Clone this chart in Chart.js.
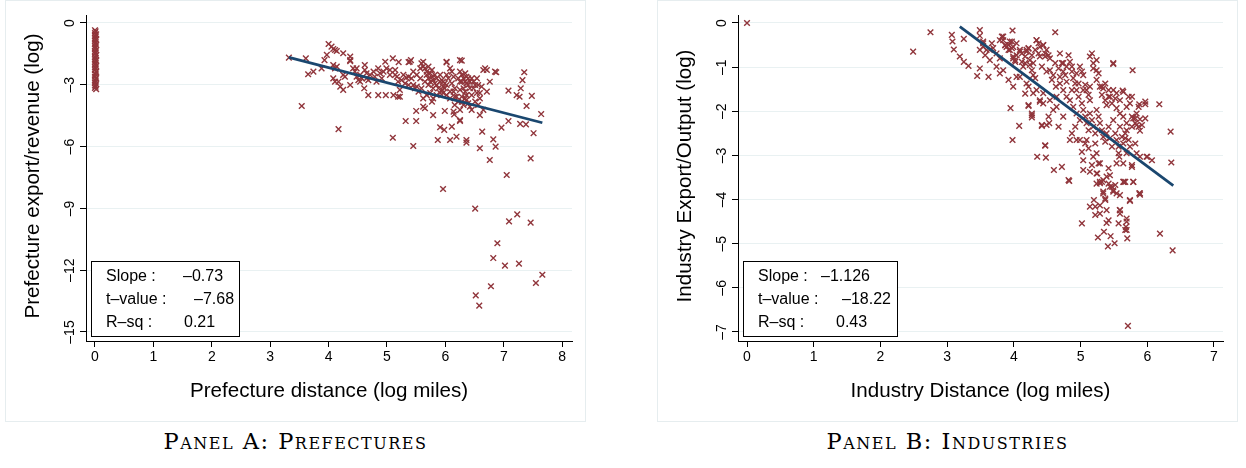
<!DOCTYPE html>
<html>
<head>
<meta charset="utf-8">
<style>
  body { margin: 0; background: #fff; width: 1246px; height: 468px; position: relative; overflow: hidden; }
  .panel { position: absolute; top: 0; width: 581px; height: 422px; box-sizing: border-box; border: 1px solid #e6edef; }
  .panel canvas { display: block; }
  .caption { position: absolute; top: 428px; width: 581px; text-align: center;
    font-family: "DejaVu Serif", "Liberation Serif", serif; font-size: 22.5px; letter-spacing: 1.5px;
    font-variant: small-caps; color: #000; }
</style>
</head>
<body>
<div class="panel" style="left:5px"><canvas id="prefChart" width="579" height="420"></canvas></div>
<div class="panel" style="left:657px"><canvas id="indChart" width="579" height="420"></canvas></div>
<div class="caption" style="left:5px">Panel A: Prefectures</div>
<div class="caption" style="left:657px">Panel B: Industries</div>

<script src="https://cdn.jsdelivr.net/npm/chart.js"></script>
<script>
// ---- data ----
// Panel A: prefectures at (near) zero distance
const prefStrip = [
  [0,-0.35],[0.01,-0.41],[0,-0.49],[0.02,-0.55],[0,-0.62],[0.01,-0.67],[0,-0.75],[0.02,-0.81],[0,-0.86],[0.01,-0.94],
  [0,-1.0],[0.02,-1.07],[0,-1.12],[0.01,-1.19],[0,-1.24],[0.02,-1.32],[0,-1.37],[0.01,-1.45],[0,-1.5],[0.02,-1.56],
  [0,-1.64],[0.01,-1.69],[0,-1.77],[0.02,-1.83],[0,-1.88],[0.01,-1.96],[0,-2.01],[0.02,-2.09],[0,-2.14],[0.01,-2.23],
  [0,-2.29],[0.02,-2.37],[0,-2.46],[0.01,-2.51],[0,-2.61],[0.02,-2.67],[0,-2.76],[0.01,-2.81],[0,-2.9],[0.02,-2.97],
  [0,-3.03],[0.01,-3.09],[0,-3.15],[0.02,-3.21]
];
// Panel A: the main cloud
const prefCloud = [
  [3.32,-1.68],[3.61,-1.72],[3.54,-4.03],[3.65,-2.49],[3.74,-2.36],[3.88,-2.20],[3.93,-1.80],[3.97,-1.55],[4.00,-1.02],[4.05,-1.15],
  [4.08,-1.26],[4.11,-1.31],[4.14,-1.36],[4.17,-5.15],[4.25,-1.47],[4.37,-1.63],[4.37,-1.80],
  [4.08,-2.04],[4.11,-2.20],[4.14,-2.12],[4.08,-2.69],[4.11,-2.85],[4.17,-2.85],[4.20,-3.09],[4.25,-3.25],[4.25,-2.52],
  [4.28,-2.61],[4.37,-3.01],[4.37,-1.85],[4.42,-2.20],[4.45,-2.36],[4.48,-2.61],[4.51,-2.77],[4.54,-2.52],[4.57,-2.69],
  [4.62,-2.04],[4.62,-2.28],[4.65,-2.44],[4.71,-2.52],[4.68,-2.77],[4.61,-3.17],[4.68,-3.50],[4.77,-2.36],[4.79,-2.61],
  [4.82,-2.85],[4.85,-2.20],[4.88,-2.44],[4.91,-2.69],[4.94,-2.36],[4.97,-1.88],[4.99,-2.20],[4.85,-3.50],[4.98,-3.50],
  [5.10,-1.72],[5.14,-2.52],[5.17,-2.61],[5.19,-2.85],[5.22,-3.25],[5.19,-3.58],[5.22,-3.58],[5.11,-3.50],[5.25,-2.77],
  [5.28,-2.52],[5.31,-2.93],[5.33,-2.65],[5.37,-3.01],[5.39,-1.88],[5.41,-1.80],[5.42,-2.69],[5.45,-2.36],[5.48,-3.17],
  [5.51,-3.09],[5.54,-3.33],[5.57,-2.69],[5.59,-1.96],[5.62,-2.12],[5.65,-2.20],[5.68,-2.36],[5.68,-2.52],[5.71,-2.69],
  [5.74,-2.85],[5.77,-2.61],[5.79,-2.77],[5.82,-2.93],[5.85,-3.01],[5.88,-3.17],[5.91,-2.85],[5.94,-3.25],[5.96,-3.09],
  [5.99,-2.93],[6.02,-1.88],[6.05,-2.69],[6.08,-2.20],[6.11,-2.36],[6.14,-2.61],[6.16,-3.17],[5.62,-3.66],[5.68,-3.50],
  [5.74,-3.40],[5.79,-3.66],[5.77,-3.82],[5.85,-3.50],[5.91,-3.40],[6.02,-3.50],[6.08,-3.66],[6.14,-3.33],[6.19,-3.58],
  [6.25,-1.80],[6.25,-2.36],[6.28,-2.52],[6.31,-2.69],[6.34,-2.85],[6.36,-2.93],[6.39,-3.01],[6.42,-3.17],[6.45,-2.69],
  [6.48,-2.85],[6.51,-3.01],[6.54,-3.40],[6.28,-3.82],[6.31,-3.98],[6.34,-3.66],[6.36,-3.74],[6.39,-3.90],[6.42,-4.06],
  [6.45,-4.22],[6.36,-3.50],[6.25,-3.25],[6.28,-3.58],[6.22,-3.82],[6.16,-3.98],[6.14,-4.30],[6.15,-4.44],[6.25,-4.71],
  [5.99,-4.27],[5.79,-4.47],[5.50,-4.27],[5.62,-4.06],[5.65,-4.14],[6.59,-3.40],[6.62,-3.09],[6.65,-2.28],[6.68,-2.20],
  [6.71,-2.28],[6.76,-2.85],[6.71,-3.33],[6.59,-3.66],[6.56,-3.98],[6.51,-3.82],[6.65,-4.22],[6.59,-4.47],[6.85,-2.36],
  [6.25,-4.22],[5.71,-3.01],[5.74,-2.44],[5.82,-2.52],[5.85,-2.69],[5.94,-2.77],[5.96,-2.85],[5.99,-3.17],[6.02,-3.01],
  [6.08,-3.33],[6.11,-2.93],[6.22,-2.69],[6.28,-2.85],[6.31,-3.17],[6.34,-2.44],[6.39,-2.69],[6.42,-2.85],[6.45,-3.50],
  [6.48,-3.17],[6.54,-2.69],[6.56,-3.01],[5.71,-2.12],[5.77,-2.28],[5.57,-2.20],[5.51,-2.52],[5.45,-3.01],[5.37,-2.61],
  [5.05,-2.52],[5.05,-2.28],[5.14,-2.28],[4.65,-2.69],[4.54,-2.85],[4.48,-2.20],[6.02,-2.52],[6.36,-2.61],[6.25,-2.85],
  [6.34,-3.33],[6.16,-3.58],[5.91,-2.52],[5.79,-3.17],[5.65,-2.85],[5.59,-3.17],[5.96,-3.40],[5.20,-1.90],[5.37,-1.90],
  [5.62,-1.88],[6.02,-1.91],[6.28,-1.83],
  [5.10,-5.57],[5.32,-4.76],[5.50,-4.76],[5.45,-5.97],[5.87,-5.68],[5.91,-5.06],[5.98,-5.19],[5.96,-8.06],[6.08,-5.68],
  [6.11,-5.03],[6.19,-5.52],[6.25,-4.76],[6.36,-5.68],[6.36,-5.81],[6.51,-9.01],[6.59,-6.08],[6.63,-5.27],[6.76,-6.65],
  [6.82,-5.65],[6.86,-6.00],[6.87,-2.39],[6.96,-5.08],[7.05,-7.38],[7.08,-4.76],[7.08,-3.28],[7.23,-9.29],[7.22,-3.50],
  [7.27,-3.58],[7.29,-3.17],[7.28,-4.90],[7.38,-4.92],[7.32,-2.77],[7.35,-2.39],[7.39,-4.03],[7.46,-6.57],[7.48,-3.54],
  [7.51,-5.35],[7.64,-4.42],[7.09,-9.63],[7.46,-9.69],[6.89,-10.69],[6.82,-11.41],[7.02,-11.78],[7.26,-11.68],
  [7.66,-12.22],[7.55,-12.62],[6.78,-12.78],[6.52,-13.22],[6.58,-13.72]
];
// Panel B: industries
const indPoints = [
  [0,0],[2.49,-0.65],[2.75,-0.21],
  [3.07,-0.27],[3.08,-0.42],[3.10,-0.60],[3.19,-0.76],[3.25,-0.88],[3.32,-0.97],[3.25,-0.36],[3.45,-1.20],[3.49,-0.16],
  [3.49,-0.29],[3.49,-0.61],[3.49,-1.03],[3.54,-0.42],[3.57,-0.73],[3.62,-1.22],
  [3.67,-0.46],[3.69,-0.57],[3.74,-0.69],[3.79,-0.80],[3.82,-0.31],[3.84,-0.39],[3.87,-0.50],[3.89,-0.54],[3.92,-0.61],
  [3.94,-0.42],[3.97,-0.57],[3.98,-0.17],[3.99,-0.80],[4.02,-0.88],[4.04,-0.73],[4.09,-0.65],[4.12,-0.88],[4.14,-0.99],
  [4.17,-0.91],[4.19,-0.61],[4.22,-0.57],[4.24,-0.95],[4.27,-1.07],[4.29,-1.18],[4.32,-1.25],[4.34,-0.39],[4.37,-0.46],
  [4.39,-0.76],[4.42,-0.99],[4.44,-0.50],[4.47,-0.69],[4.49,-0.61],[4.52,-0.73],[4.54,-1.07],[4.57,-1.29],[4.59,-1.18],
  [4.62,-0.21],[4.63,-1.44],[4.64,-1.67],[4.67,-1.03],[4.69,-0.69],[4.72,-0.91],[4.74,-1.10],[4.77,-1.18],[4.79,-1.33],
  [4.82,-0.73],[4.84,-0.88],[4.87,-0.99],[4.89,-1.25],[4.92,-1.37],[4.94,-1.52],[4.97,-1.67],[4.99,-0.99],[5.02,-1.10],
  [5.04,-1.18],[5.07,-1.40],[5.09,-1.52],[5.12,-1.63],[5.14,-1.75],[5.17,-0.69],[5.19,-1.03],[5.24,-0.84],[5.27,-1.14],
  [5.29,-1.44],[5.32,-1.63],[5.34,-1.48],[5.37,-1.75],[5.39,-1.86],[5.42,-1.52],[5.44,-1.67],[5.47,-1.82],[5.49,-0.93],
  [5.52,-1.71],[5.54,-1.93],[5.59,-1.75],[5.64,-1.56],[5.69,-1.90],[5.72,-1.67],[5.74,-1.82],[5.78,-1.07],[5.82,-2.16],
  [5.84,-2.05],[5.87,-1.90],[5.89,-2.18],[5.97,-1.84],[6.18,-1.84],[6.35,-2.46],[6.36,-3.16],
  [3.95,-1.93],[3.98,-2.65],[4.08,-2.33],[4.22,-1.88],[4.27,-2.09],[4.27,-2.14],[4.35,-3.03],[4.42,-2.33],[4.47,-2.77],
  [4.48,-3.05],[4.52,-2.12],[4.53,-2.27],[4.60,-3.33],[4.67,-2.35],[4.72,-3.26],[4.74,-2.12],[4.82,-3.56],[4.84,-2.65],
  [4.87,-2.50],[4.92,-2.35],[4.94,-2.65],[4.99,-2.65],[5.02,-2.92],[5.04,-3.11],[5.04,-3.33],[5.07,-2.73],[5.09,-2.65],
  [5.12,-2.84],[5.14,-3.37],[5.17,-3.22],[5.19,-3.03],[5.22,-2.73],[5.24,-2.95],[5.24,-3.41],[5.27,-3.18],[5.29,-3.63],
  [5.32,-3.60],[5.34,-3.86],[5.37,-4.01],[5.39,-3.48],[5.42,-3.29],[5.44,-3.45],[5.47,-3.71],[5.49,-3.82],[5.52,-3.67],
  [5.54,-3.18],[5.57,-2.95],[5.59,-4.24],[5.64,-3.18],[5.67,-3.60],[5.69,-2.95],[5.74,-4.01],[5.77,-3.26],[5.79,-3.60],
  [5.89,-3.86],[6.00,-3.03],[6.07,-3.11],
  [4.84,-1.75],[4.89,-1.90],[4.94,-2.05],[4.99,-2.20],[5.02,-1.82],[5.04,-1.97],[5.07,-2.12],[5.09,-2.27],[5.12,-2.43],
  [5.14,-2.05],[5.17,-2.20],[5.19,-2.35],[5.22,-2.50],[5.24,-1.97],[5.27,-2.12],[5.29,-2.27],[5.32,-2.43],[5.34,-2.58],
  [5.37,-2.69],[5.39,-2.50],[5.42,-2.35],[5.44,-2.61],[5.47,-2.80],[5.49,-2.20],[5.52,-2.50],[5.54,-2.65],[5.57,-2.80],
  [5.59,-2.35],[5.62,-2.58],[5.64,-2.73],[5.67,-2.50],[5.72,-2.65],[5.74,-2.80],[5.77,-2.35],[5.82,-2.73],[5.84,-2.95],
  [5.89,-3.03],[4.69,-1.37],[4.74,-1.52],[4.79,-1.67],[4.87,-1.52],[4.97,-1.37],[5.04,-1.52],[5.14,-1.44],[5.24,-1.29],
  [5.32,-1.44],[5.37,-1.37],[5.42,-1.67],[5.49,-1.52],[5.54,-1.59],[5.59,-2.05],[5.64,-2.12],[5.69,-2.27],[5.77,-2.12],
  [5.82,-2.27],[5.87,-2.35],[5.92,-2.31],[5.97,-2.16],[4.54,-1.75],[4.59,-1.97],[4.64,-1.90],[4.44,-1.59],[4.39,-1.75],
  [4.34,-1.52],[4.29,-1.59],[4.19,-1.37],[4.09,-1.22],[3.99,-1.44],[3.92,-1.29],[3.84,-1.07],[3.79,-1.14],[3.74,-0.99],
  [3.64,-0.84],[3.59,-0.61],[3.54,-0.54],[5.14,-0.76],[5.19,-0.91],[5.24,-1.07],[4.87,-1.10],[4.94,-1.14],[4.74,-0.91],
  [4.79,-0.99],[4.69,-1.22],[4.62,-0.91],[4.54,-0.80],[4.39,-0.54],[4.32,-0.61],[4.27,-0.73],[4.04,-0.46],[3.99,-0.54],
  [4.83,-3.58],[5.24,-3.64],[5.29,-3.60],[5.34,-3.56],[5.42,-3.64],[5.44,-3.71],[5.49,-3.79],[5.54,-3.86],[5.59,-3.90],
  [5.64,-3.60],[5.79,-3.60],[5.89,-3.89],[5.20,-4.01],[5.14,-4.16],[5.22,-4.16],[5.29,-4.13],[5.37,-3.98],[5.39,-4.24],
  [5.22,-4.35],[5.29,-4.32],[5.02,-4.54],[5.39,-4.53],[5.42,-4.47],[5.57,-4.54],[5.59,-4.24],[5.59,-4.32],[5.74,-4.03],
  [5.69,-4.43],[5.69,-4.50],[5.68,-4.62],[5.67,-4.69],[5.69,-4.69],[5.35,-4.73],[5.26,-4.86],[5.45,-4.83],[5.51,-4.99],
  [5.41,-5.06],[5.70,-4.88],[6.19,-4.77],[6.38,-5.15],[5.71,-6.86],
  [5.25,-3.41],[5.29,-3.18],[5.34,-3.82],[5.58,-3.03],[5.65,-3.60],[5.88,-3.86],[5.77,-3.22],[5.89,-2.44],[5.99,-3.03],
  [5.97,-1.78],[5.88,-1.84],[5.77,-1.67],[5.63,-1.53],[5.49,-0.91],[5.79,-2.16],[5.84,-2.31],[5.69,-2.43],[5.67,-2.61],
  [3.54,-0.46],[3.64,-0.61],[3.79,-0.39],[3.84,-0.31],[3.87,-0.50],[3.92,-0.50],[3.94,-0.61],[3.97,-0.42],[3.99,-0.76],
  [4.02,-0.84],[4.04,-1.22],[4.09,-0.61],[4.12,-0.69],[4.17,-0.76],[4.19,-0.65],[4.22,-0.58],[4.24,-0.84],[4.29,-0.91],
  [4.34,-0.39],[4.37,-0.69],[4.44,-0.50],[4.47,-0.76],[4.49,-1.10],[4.17,-1.60],[4.22,-1.44],[4.22,-1.86],[4.27,-2.05],
  [4.39,-1.78],[4.44,-1.82],[4.49,-2.31],[4.42,-2.31],[4.47,-2.78]
];

const prefXTicks = [0, 1, 2, 3, 4, 5, 6, 7, 8];
const prefYTicks = [0, -3, -6, -9, -12, -15];
const indXTicks = [0, 1, 2, 3, 4, 5, 6, 7];
const indYTicks = [0, -1, -2, -3, -4, -5, -6, -7];

const prefFit = { slope: -0.73, intercept: 0.75, from: 3.32, to: 7.66 };
const indFit = { slope: -1.126, intercept: 3.51, from: 3.19, to: 6.39 };

const prefStats = [['Slope :', '\u20130.73'], ['t\u2013value :', '\u20137.68'], ['R\u2013sq :', '0.21']];
const indStats = [['Slope :', '\u20131.126'], ['t\u2013value :', '\u201318.22'], ['R\u2013sq :', '0.43']];

// ---- drawing ----
const MAROON = '#90353b';
const NAVY = '#1a476f';
const GRID = '#e9f1f2';
const SANS = '"Liberation Sans", Arial, sans-serif';
const fmt = v => v < 0 ? '\u2013' + Math.abs(v) : String(v);

const stataText = {
  id: 'stataText',
  afterDraw(chart, args, o) {
    const ctx = chart.ctx, xs = chart.scales.x, ys = chart.scales.y, a = chart.chartArea;
    ctx.save();
    ctx.fillStyle = '#000';
    ctx.font = '14px ' + SANS;
    // y tick labels, turned like the axis
    ctx.textAlign = 'center';
    ctx.textBaseline = 'alphabetic';
    o.yTicks.forEach(v => {
      ctx.save();
      ctx.translate(a.left - 12, ys.getPixelForValue(v));
      ctx.rotate(-Math.PI / 2);
      ctx.fillText(fmt(v), 0, 0);
      ctx.restore();
    });
    // x tick labels
    ctx.textBaseline = 'middle';
    o.xTicks.forEach(v => ctx.fillText(fmt(v), xs.getPixelForValue(v), a.bottom + 16));
    // axis titles
    ctx.font = '20.6px ' + SANS;
    ctx.fillText(o.xTitle, (a.left + a.right) / 2, a.bottom + 50);
    ctx.save();
    ctx.translate(27, (a.top + a.bottom) / 2 - 2);
    ctx.rotate(-Math.PI / 2);
    ctx.fillText(o.yTitle, 0, 0);
    ctx.restore();
    // stats box
    const b = o.box;
    ctx.fillStyle = '#fff';
    ctx.fillRect(b.x, b.y, b.w, b.h);
    ctx.strokeStyle = '#000';
    ctx.lineWidth = 1;
    ctx.strokeRect(b.x + 0.5, b.y + 0.5, b.w, b.h);
    ctx.fillStyle = '#000';
    ctx.font = '16px ' + SANS;
    ctx.textAlign = 'left';
    o.stats.forEach((s, i) => {
      const y = b.y + 16 + i * 23;
      ctx.fillText(s[0], b.x + 15, y);
      ctx.fillText(s[1], b.x + o.valX[i], y);
    });
    ctx.restore();
  }
};

function panel(id, pts, fit, xTicks, yTicks, xr, yr, xTitle, yTitle, stats, box, valX) {
  const fitLine = [fit.from, fit.to].map(x => ({ x, y: fit.intercept + fit.slope * x }));
  new Chart(document.getElementById(id), {
    type: 'scatter',
    data: {
      datasets: [
        { type: 'line', data: fitLine, borderColor: NAVY, borderWidth: 2.8, pointRadius: 0, fill: false },
        { data: pts.map(p => ({ x: p[0], y: p[1] })), pointStyle: 'crossRot', pointRadius: 4,
          borderColor: MAROON, backgroundColor: MAROON, borderWidth: 1.4 }
      ]
    },
    options: {
      responsive: false, animation: false, events: [],
      layout: { padding: { top: 14, right: 579 - box.right, left: 0, bottom: 0 } },
      plugins: {
        legend: { display: false }, tooltip: { enabled: false },
        stataText: { xTicks, yTicks, xTitle, yTitle, stats, box, valX }
      },
      scales: {
        x: {
          min: xr[0], max: xr[1],
          afterBuildTicks: s => { s.ticks = xTicks.map(v => ({ value: v })); },
          afterFit: s => { s.height = 420 - 340; },
          ticks: { display: false },
          grid: { drawOnChartArea: false, tickLength: 6, tickColor: '#000', lineWidth: 1 },
          border: { color: '#000', width: 1 }
        },
        y: {
          min: yr[0], max: yr[1],
          afterBuildTicks: s => { s.ticks = yTicks.map(v => ({ value: v })); },
          afterFit: s => { s.width = 80; },
          ticks: { display: false },
          grid: { color: GRID, lineWidth: 1, tickLength: 6, tickColor: '#000' },
          border: { color: '#000', width: 1 }
        }
      }
    },
    plugins: [stataText]
  });
}

panel('prefChart', prefStrip.concat(prefCloud), prefFit, prefXTicks, prefYTicks,
  [-0.154, 8.168], [-15.437, 0.388],
  'Prefecture distance (log miles)', 'Prefecture export/revenue (log)', prefStats,
  { x: 85, y: 260, w: 148, h: 75, right: 566 }, [92, 103, 93]);

panel('indChart', indPoints, indFit, indXTicks, indYTicks,
  [-0.135, 7.135], [-7.204, 0.181],
  'Industry Distance (log miles)', 'Industry Export/Output (log)', indStats,
  { x: 85, y: 260, w: 154, h: 75, right: 565 }, [78, 99, 93]);
</script>
</body>
</html>
